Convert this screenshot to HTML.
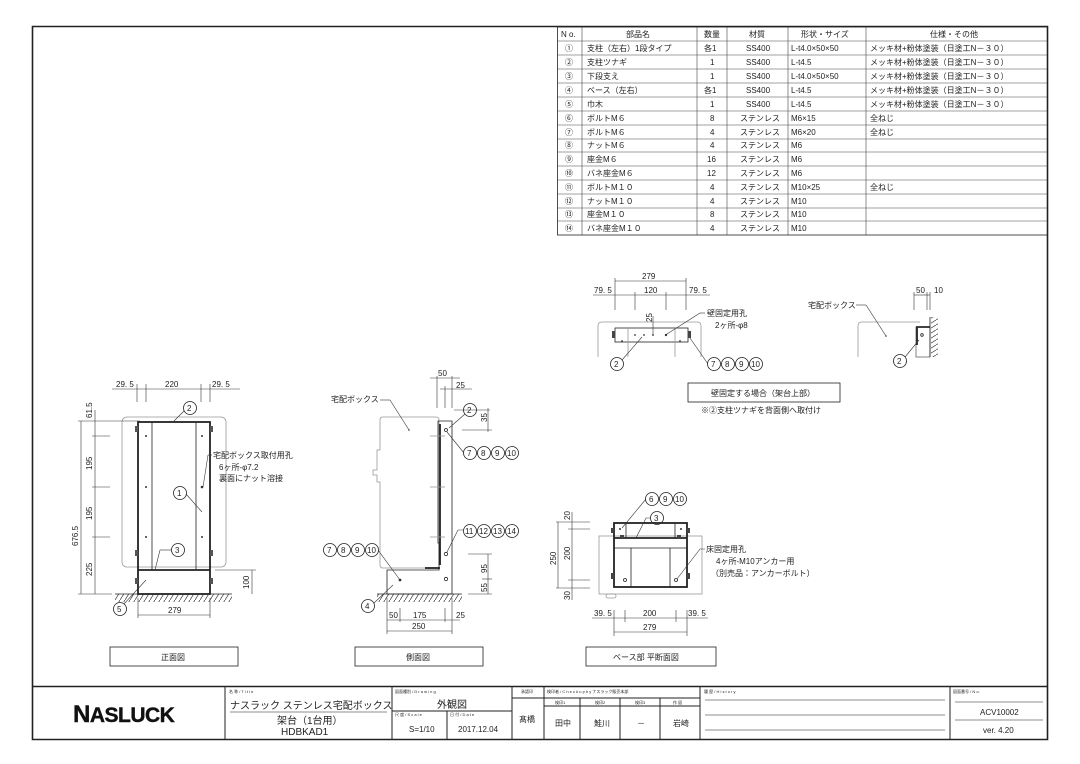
<!DOCTYPE html>
<html><head><meta charset="utf-8"><style>
html,body{margin:0;padding:0;background:#fff;}
svg{display:block;}
text{font-family:"Liberation Sans","Noto Sans CJK JP",sans-serif;fill:#222;}
.t{font-size:8px;}
.s{font-size:4px;fill:#555;}
.k{stroke:#222;fill:none;stroke-width:0.8;}
.h{stroke:#222;fill:none;stroke-width:1.8;}
.d{stroke:#999;fill:none;stroke-width:0.8;}
.f{stroke:#333;fill:none;stroke-width:0.6;}
</style></head><body>
<svg width="1080" height="764" viewBox="0 0 1080 764" xmlns="http://www.w3.org/2000/svg">
<defs>
<pattern id="hat" width="5" height="8" patternUnits="userSpaceOnUse">
<line x1="5" y1="0" x2="0" y2="8" stroke="#333" stroke-width="0.7"/></pattern>
<pattern id="hatv" width="8" height="5" patternUnits="userSpaceOnUse">
<line x1="0" y1="5" x2="8" y2="0" stroke="#333" stroke-width="0.7"/></pattern>
</defs>
<path d="M32.5 26.5 H1047.5 V739.5 H32.5 Z" stroke="#222" stroke-width="1.6" fill="none"/>
<line x1="32" y1="686.5" x2="1048" y2="686.5" stroke="#222" stroke-width="1.6"/>

<g class="t">
<rect x="557.5" y="27" width="490" height="208" class="k"/>
<g stroke="#444" stroke-width="0.6">
<line x1="582" y1="27" x2="582" y2="235"/><line x1="697" y1="27" x2="697" y2="235"/>
<line x1="727" y1="27" x2="727" y2="235"/><line x1="788" y1="27" x2="788" y2="235"/>
<line x1="866" y1="27" x2="866" y2="235"/>
<line x1="557" y1="41" x2="1047" y2="41"/><line x1="557" y1="55" x2="1047" y2="55"/>
<line x1="557" y1="69" x2="1047" y2="69"/><line x1="557" y1="83" x2="1047" y2="83"/>
<line x1="557" y1="97" x2="1047" y2="97"/><line x1="557" y1="111" x2="1047" y2="111"/>
<line x1="557" y1="125" x2="1047" y2="125"/><line x1="557" y1="139" x2="1047" y2="139"/>
<line x1="557" y1="152" x2="1047" y2="152"/><line x1="557" y1="166" x2="1047" y2="166"/>
<line x1="557" y1="180" x2="1047" y2="180"/><line x1="557" y1="194" x2="1047" y2="194"/>
<line x1="557" y1="208" x2="1047" y2="208"/><line x1="557" y1="221" x2="1047" y2="221"/>
</g>
<text x="561" y="37">N o.</text><text x="626" y="37">部品名</text><text x="704" y="37">数量</text>
<text x="749" y="37">材質</text><text x="801" y="37">形状・サイズ</text><text x="930" y="37">仕様・その他</text>
<g>
<text x="565" y="51">①</text><text x="587" y="51">支柱（左右）1段タイプ</text><text x="704" y="51">各1</text><text x="746" y="51">SS400</text><text x="791" y="51">L-t4.0×50×50</text><text x="870" y="51">メッキ材+粉体塗装（日塗工N－３０）</text>
<text x="565" y="65">②</text><text x="587" y="65">支柱ツナギ</text><text x="710" y="65">1</text><text x="746" y="65">SS400</text><text x="791" y="65">L-t4.5</text><text x="870" y="65">メッキ材+粉体塗装（日塗工N－３０）</text>
<text x="565" y="79">③</text><text x="587" y="79">下段支え</text><text x="710" y="79">1</text><text x="746" y="79">SS400</text><text x="791" y="79">L-t4.0×50×50</text><text x="870" y="79">メッキ材+粉体塗装（日塗工N－３０）</text>
<text x="565" y="93">④</text><text x="587" y="93">ベース（左右）</text><text x="704" y="93">各1</text><text x="746" y="93">SS400</text><text x="791" y="93">L-t4.5</text><text x="870" y="93">メッキ材+粉体塗装（日塗工N－３０）</text>
<text x="565" y="107">⑤</text><text x="587" y="107">巾木</text><text x="710" y="107">1</text><text x="746" y="107">SS400</text><text x="791" y="107">L-t4.5</text><text x="870" y="107">メッキ材+粉体塗装（日塗工N－３０）</text>
<text x="565" y="121">⑥</text><text x="587" y="121">ボルトM６</text><text x="710" y="121">8</text><text x="740" y="121">ステンレス</text><text x="791" y="121">M6×15</text><text x="870" y="121">全ねじ</text>
<text x="565" y="135">⑦</text><text x="587" y="135">ボルトM６</text><text x="710" y="135">4</text><text x="740" y="135">ステンレス</text><text x="791" y="135">M6×20</text><text x="870" y="135">全ねじ</text>
<text x="565" y="148">⑧</text><text x="587" y="148">ナットM６</text><text x="710" y="148">4</text><text x="740" y="148">ステンレス</text><text x="791" y="148">M6</text>
<text x="565" y="162">⑨</text><text x="587" y="162">座金M６</text><text x="707" y="162">16</text><text x="740" y="162">ステンレス</text><text x="791" y="162">M6</text>
<text x="565" y="176">⑩</text><text x="587" y="176">バネ座金M６</text><text x="707" y="176">12</text><text x="740" y="176">ステンレス</text><text x="791" y="176">M6</text>
<text x="565" y="190">⑪</text><text x="587" y="190">ボルトM１０</text><text x="710" y="190">4</text><text x="740" y="190">ステンレス</text><text x="791" y="190">M10×25</text><text x="870" y="190">全ねじ</text>
<text x="565" y="204">⑫</text><text x="587" y="204">ナットM１０</text><text x="710" y="204">4</text><text x="740" y="204">ステンレス</text><text x="791" y="204">M10</text>
<text x="565" y="217">⑬</text><text x="587" y="217">座金M１０</text><text x="710" y="217">8</text><text x="740" y="217">ステンレス</text><text x="791" y="217">M10</text>
<text x="565" y="231">⑭</text><text x="587" y="231">バネ座金M１０</text><text x="710" y="231">4</text><text x="740" y="231">ステンレス</text><text x="791" y="231">M10</text>
</g></g>

<g class="t">
<line x1="112" y1="389" x2="240" y2="389" class="f"/>
<line x1="137" y1="384" x2="137" y2="402" class="f"/><line x1="146" y1="384" x2="146" y2="402" class="f"/>
<line x1="201" y1="384" x2="201" y2="402" class="f"/><line x1="210" y1="384" x2="210" y2="402" class="f"/>
<text x="116" y="387">29. 5</text><text x="165" y="387">220</text><text x="212" y="387">29. 5</text>
<rect x="122" y="417" width="104" height="150" rx="5" class="d"/>
<rect x="138" y="422" width="72" height="172" class="h" stroke-width="1.7"/>
<line x1="152" y1="422" x2="152" y2="570" class="k"/><line x1="196" y1="422" x2="196" y2="570" class="k"/>
<line x1="138" y1="570" x2="210" y2="570" class="h"/>
<rect x="135" y="426" width="3" height="6" fill="#555"/><rect x="210" y="426" width="3" height="6" fill="#555"/>
<rect x="135" y="550" width="3" height="6" fill="#555"/><rect x="210" y="550" width="3" height="6" fill="#555"/>
<rect x="135" y="578" width="3" height="6" fill="#555"/><rect x="210" y="578" width="3" height="6" fill="#555"/>
<g fill="#333"><circle cx="146" cy="436" r="1"/><circle cx="202" cy="436" r="1"/><circle cx="146" cy="487" r="1"/><circle cx="202" cy="487" r="1.3"/><circle cx="146" cy="537" r="1"/><circle cx="202" cy="537" r="1"/></g>
<rect x="115" y="594" width="117" height="8" fill="url(#hat)"/><line x1="115" y1="594" x2="232" y2="594" class="k"/>
<line x1="81" y1="421" x2="81" y2="594" class="f"/><line x1="95" y1="410" x2="95" y2="594" class="f"/>
<g class="f"><line x1="78" y1="421" x2="140" y2="421"/><line x1="92" y1="436" x2="110" y2="436"/><line x1="92" y1="487" x2="110" y2="487"/><line x1="92" y1="537" x2="110" y2="537"/><line x1="78" y1="594" x2="112" y2="594"/></g>
<text transform="translate(78,546) rotate(-90)">676.5</text>
<text transform="translate(92,418) rotate(-90)">61.5</text>
<text transform="translate(92,470) rotate(-90)">195</text>
<text transform="translate(92,520) rotate(-90)">195</text>
<text transform="translate(92,576) rotate(-90)">225</text>
<line x1="252" y1="570" x2="252" y2="594" class="f"/><line x1="215" y1="570" x2="256" y2="570" class="f"/>
<text transform="translate(249,589) rotate(-90)">100</text>
<line x1="138" y1="598" x2="138" y2="618" class="f"/><line x1="210" y1="598" x2="210" y2="618" class="f"/>
<line x1="138" y1="615" x2="210" y2="615" class="f"/><text x="168" y="613">279</text>
<circle cx="190" cy="408" r="6.5" class="k"/><text x="187" y="411">2</text><line x1="184" y1="411" x2="173" y2="422" class="f"/>
<circle cx="180" cy="493" r="6.5" class="k"/><text x="177" y="496">1</text><line x1="186" y1="494" x2="202" y2="512" class="f"/>
<circle cx="178" cy="550" r="6.5" class="k"/><text x="175" y="553">3</text><line x1="172" y1="550" x2="160" y2="550" class="f"/><line x1="160" y1="550" x2="155" y2="570" class="f"/>
<circle cx="120" cy="609" r="6.5" class="k"/><text x="117" y="612">5</text><line x1="124" y1="604" x2="146" y2="580" class="f"/>
<line x1="208" y1="455" x2="203" y2="487" class="f"/><line x1="208" y1="455" x2="212" y2="455" class="f"/>
<text x="213" y="458">宅配ボックス取付用孔</text><text x="219" y="470">6ヶ所-φ7.2</text><text x="219" y="481">裏面にナット溶接</text>
<rect x="110" y="647" width="128" height="19" class="k"/><text x="161" y="660">正面図</text>
</g>

<g class="t">
<line x1="437" y1="376" x2="437" y2="408" class="f"/><line x1="452" y1="376" x2="452" y2="408" class="f"/><line x1="445" y1="386" x2="445" y2="408" class="f"/>
<line x1="430" y1="378" x2="460" y2="378" class="f"/><line x1="440" y1="389" x2="472" y2="389" class="f"/>
<text x="438" y="376">50</text><text x="456" y="388">25</text>
<path d="M380 420 Q380 417 383 417 H436 Q439 417 439 420 V568 H383 Q380 568 380 565 V482 H377 V475 H373 V470 H377 V450 H380 Z" class="d"/>
<path d="M438 421 H452 V594 H387 V570 H439 V543 H438 Z" class="k"/>
<line x1="440" y1="424" x2="440" y2="565" class="h" stroke-width="1.3"/><line x1="425" y1="568" x2="440" y2="568" class="h" stroke-width="1.3"/>
<g class="d"><line x1="430" y1="436" x2="445" y2="436"/><line x1="430" y1="487" x2="445" y2="487"/><line x1="430" y1="537" x2="445" y2="537"/></g>
<circle cx="446" cy="430" r="1.5" class="k"/><circle cx="446" cy="554" r="1.7" class="k"/><circle cx="446" cy="579" r="1.7" class="k"/><circle cx="400" cy="580" r="1.4" fill="#333"/>
<circle cx="409" cy="430" r="0.8" fill="#333"/>
<rect x="377" y="594" width="85" height="8" fill="url(#hat)"/><line x1="377" y1="594" x2="462" y2="594" class="k"/>
<line x1="454" y1="410" x2="490" y2="410" class="f"/><line x1="462" y1="430" x2="492" y2="430" class="f"/><line x1="488" y1="408" x2="488" y2="432" class="f"/>
<text transform="translate(487,422) rotate(-90)">35</text>
<line x1="468" y1="554" x2="492" y2="554" class="f"/><line x1="468" y1="594" x2="492" y2="594" class="f"/><line x1="488" y1="554" x2="488" y2="594" class="f"/><line x1="482" y1="579" x2="492" y2="579" class="f"/>
<text transform="translate(487,573) rotate(-90)">95</text><text transform="translate(487,592) rotate(-90)">55</text>
<g class="f"><line x1="387" y1="598" x2="387" y2="634"/><line x1="452" y1="598" x2="452" y2="634"/><line x1="400" y1="608" x2="400" y2="622"/><line x1="445" y1="608" x2="445" y2="622"/>
<line x1="387" y1="620" x2="460" y2="620"/><line x1="387" y1="631" x2="452" y2="631"/></g>
<text x="389" y="618">50</text><text x="413" y="618">175</text><text x="456" y="618">25</text><text x="412" y="629">250</text>
<text x="331" y="402">宅配ボックス</text><line x1="380" y1="400" x2="390" y2="400" class="f"/><line x1="390" y1="400" x2="409" y2="430" class="f"/>
<circle cx="470" cy="410" r="6.5" class="k"/><text x="467" y="413">2</text><line x1="465" y1="414" x2="449" y2="428" class="f"/>
<g><circle cx="470" cy="453" r="6.5" class="k"/><circle cx="484" cy="453" r="6.5" class="k"/><circle cx="498" cy="453" r="6.5" class="k"/><circle cx="512" cy="453" r="6.5" class="k"/>
<text x="467" y="456">7</text><text x="481" y="456">8</text><text x="495" y="456">9</text><text x="507" y="456">10</text></g>
<line x1="464" y1="453" x2="447" y2="432" class="f"/>
<g><circle cx="470" cy="531" r="6.5" class="k"/><circle cx="484" cy="531" r="6.5" class="k"/><circle cx="498" cy="531" r="6.5" class="k"/><circle cx="512" cy="531" r="6.5" class="k"/>
<text x="465" y="534">11</text><text x="479" y="534">12</text><text x="493" y="534">13</text><text x="507" y="534">14</text></g>
<path d="M464 530 H458 L447 552" class="f"/>
<g><circle cx="330" cy="550" r="6.5" class="k"/><circle cx="344" cy="550" r="6.5" class="k"/><circle cx="358" cy="550" r="6.5" class="k"/><circle cx="372" cy="550" r="6.5" class="k"/>
<text x="327" y="553">7</text><text x="341" y="553">8</text><text x="355" y="553">9</text><text x="367" y="553">10</text></g>
<line x1="378" y1="550" x2="400" y2="580" class="f"/>
<circle cx="368" cy="606" r="6.5" class="k"/><text x="365" y="609">4</text><line x1="374" y1="603" x2="393" y2="585" class="f"/>
<rect x="355" y="647" width="128" height="19" class="k"/><text x="406" y="660">側面図</text>
</g>

<g class="t">
<line x1="615" y1="281" x2="686" y2="281" class="f"/><line x1="593" y1="295" x2="710" y2="295" class="f"/>
<g class="f"><line x1="615" y1="278" x2="615" y2="310"/><line x1="686" y1="278" x2="686" y2="310"/><line x1="635" y1="292" x2="635" y2="310"/><line x1="666" y1="292" x2="666" y2="310"/></g>
<text x="642" y="279">279</text><text x="594" y="293">79. 5</text><text x="644" y="293">120</text><text x="689" y="293">79. 5</text>
<path d="M598 357 V326 Q598 322 602 322 H697 Q701 322 701 326 V357" class="d"/>
<rect x="615" y="328" width="73" height="14" class="k"/>
<line x1="628" y1="328" x2="628" y2="357" class="d"/><line x1="675" y1="328" x2="675" y2="357" class="d"/>
<rect x="612" y="331" width="3" height="7" fill="#444"/><rect x="688" y="331" width="3" height="7" fill="#444"/>
<g fill="#333"><circle cx="635" cy="335" r="0.9"/><circle cx="644" cy="335" r="0.9"/><circle cx="653" cy="335" r="0.9"/><circle cx="666" cy="335" r="1.2"/><circle cx="622" cy="341" r="0.9"/><circle cx="680" cy="341" r="0.9"/></g>
<line x1="653" y1="316" x2="653" y2="335" class="f"/><text transform="translate(652,322) rotate(-90)">25</text>
<text x="707" y="316">壁固定用孔</text><text x="715" y="328">2ヶ所-φ8</text>
<line x1="705" y1="313" x2="700" y2="313" class="f"/><line x1="700" y1="313" x2="667" y2="334" class="f"/>
<circle cx="617" cy="364" r="6.5" class="k"/><text x="614" y="367">2</text><line x1="622" y1="360" x2="642" y2="337" class="f"/>
<g><circle cx="714" cy="364" r="6.5" class="k"/><circle cx="728" cy="364" r="6.5" class="k"/><circle cx="742" cy="364" r="6.5" class="k"/><circle cx="756" cy="364" r="6.5" class="k"/>
<text x="711" y="367">7</text><text x="725" y="367">8</text><text x="739" y="367">9</text><text x="751" y="367">10</text></g>
<line x1="708" y1="364" x2="690" y2="338" class="f"/>
<rect x="688" y="383" width="152" height="19" class="k"/><text x="711" y="396">壁固定する場合（架台上部）</text>
<text x="701" y="413">※②支柱ツナギを背面側へ取付け</text>
<path d="M858 357 V326 Q858 322 862 322 H920" class="d"/>
<path d="M930 327 H917 V345" class="h" stroke-width="1.2"/><rect x="916" y="327" width="14" height="30" class="f"/>
<line x1="930" y1="317" x2="930" y2="357" class="k"/><rect x="931" y="317" width="7" height="40" fill="url(#hatv)"/>
<circle cx="922" cy="335" r="1.3" class="k"/><circle cx="886" cy="336" r="0.8" fill="#333"/>
<line x1="914" y1="295" x2="930" y2="295" class="f"/><line x1="914" y1="292" x2="914" y2="310" class="f"/><line x1="927" y1="292" x2="927" y2="310" class="f"/><line x1="930" y1="292" x2="930" y2="310" class="f"/>
<text x="916" y="293">50</text><text x="934" y="293">10</text>
<text x="808" y="308">宅配ボックス</text><line x1="856" y1="305" x2="866" y2="305" class="f"/><line x1="866" y1="305" x2="886" y2="336" class="f"/>
<circle cx="900" cy="361" r="6.5" class="k"/><text x="897" y="364">2</text><line x1="905" y1="357" x2="919" y2="340" class="f"/>
</g>

<g class="t">
<rect x="599" y="536" width="103" height="58" class="d"/>
<rect x="614" y="523" width="73" height="64" class="h" stroke-width="1.3"/>
<line x1="614" y1="538" x2="687" y2="538" class="h" stroke-width="1.3"/><line x1="614" y1="548" x2="687" y2="548" class="k"/>
<line x1="631" y1="548" x2="631" y2="587" class="k"/><line x1="670" y1="548" x2="670" y2="587" class="k"/>
<line x1="626" y1="523" x2="626" y2="538" class="k"/><line x1="675" y1="523" x2="675" y2="538" class="k"/>
<g fill="#444"><rect x="611" y="528" width="3" height="5"/><rect x="687" y="528" width="3" height="5"/><rect x="611" y="573" width="3" height="6"/><rect x="687" y="573" width="3" height="6"/><rect x="620" y="535" width="4" height="3"/><rect x="677" y="535" width="4" height="3"/></g>
<circle cx="625" cy="580" r="1.5" class="k"/><circle cx="676" cy="580" r="1.5" class="k"/>
<circle cx="620" cy="529" r="1" fill="#333"/><circle cx="681" cy="529" r="1" fill="#333"/>
<rect x="606" y="594" width="10" height="4" rx="2" class="d"/>
<g class="f"><line x1="556" y1="522" x2="590" y2="522"/><line x1="568" y1="529" x2="590" y2="529"/><line x1="568" y1="580" x2="590" y2="580"/><line x1="556" y1="588" x2="590" y2="588"/>
<line x1="558" y1="522" x2="558" y2="588"/><line x1="572" y1="512" x2="572" y2="600"/></g>
<text transform="translate(556,565) rotate(-90)">250</text><text transform="translate(570,560) rotate(-90)">200</text>
<text transform="translate(570,520) rotate(-90)">20</text><text transform="translate(570,600) rotate(-90)">30</text>
<g class="f"><line x1="592" y1="618" x2="708" y2="618"/><line x1="614" y1="610" x2="614" y2="636"/><line x1="687" y1="610" x2="687" y2="636"/><line x1="625" y1="610" x2="625" y2="622"/><line x1="676" y1="610" x2="676" y2="622"/><line x1="614" y1="632" x2="687" y2="632"/></g>
<text x="594" y="616">39. 5</text><text x="643" y="616">200</text><text x="688" y="616">39. 5</text><text x="643" y="630">279</text>
<g><circle cx="652" cy="499" r="6.5" class="k"/><circle cx="666" cy="499" r="6.5" class="k"/><circle cx="680" cy="499" r="6.5" class="k"/>
<text x="649" y="502">6</text><text x="663" y="502">9</text><text x="675" y="502">10</text></g>
<line x1="646" y1="499" x2="622" y2="528" class="f"/>
<circle cx="657" cy="518" r="6.5" class="k"/><text x="654" y="521">3</text><path d="M651 518 H646 L636 538" class="f"/>
<text x="706" y="552">床固定用孔</text><text x="716" y="564">4ヶ所-M10アンカー用</text><text x="711" y="576">（別売品：アンカーボルト）</text>
<path d="M705 549 H700 L677 579" class="f"/>
<rect x="586" y="647" width="130" height="19" class="k"/><text x="613" y="660">ベース部 平断面図</text>
</g>

<g stroke="#222" stroke-width="1" fill="none">
<line x1="225" y1="687" x2="225" y2="739"/><line x1="392" y1="687" x2="392" y2="739"/><line x1="512" y1="687" x2="512" y2="739"/>
<line x1="544" y1="687" x2="544" y2="739"/><line x1="700" y1="687" x2="700" y2="739"/><line x1="950" y1="687" x2="950" y2="739"/>
<line x1="392" y1="711" x2="512" y2="711"/><line x1="447" y1="711" x2="447" y2="739"/>
<line x1="512" y1="698" x2="544" y2="698"/><line x1="544" y1="698" x2="700" y2="698"/><line x1="544" y1="706" x2="700" y2="706"/>
<line x1="580" y1="698" x2="580" y2="739"/><line x1="620" y1="698" x2="620" y2="739"/><line x1="660" y1="698" x2="660" y2="739"/>
</g>
<g stroke="#666" stroke-width="0.7">
<line x1="230" y1="712" x2="387" y2="712"/>
<line x1="705" y1="700" x2="945" y2="700"/><line x1="705" y1="715" x2="945" y2="715"/><line x1="705" y1="730" x2="945" y2="730"/>
<line x1="955" y1="702" x2="1043" y2="702"/><line x1="955" y1="720" x2="1043" y2="720"/>
</g>
<text x="73" y="722" style="font-size:21px;font-weight:bold;letter-spacing:-0.5px;fill:#111;stroke:#111;stroke-width:0.4"><tspan style="font-size:24px">N</tspan>ASLUCK</text>
<g class="s"><text x="229" y="693">名 称 / T i t l e</text><text x="395" y="693">図面種別 / D r a w i n g</text><text x="521" y="693">承認印</text>
<text x="547" y="693">検印者 / C h e c k  u p  b y  ナスラック販売本部</text><text x="704" y="693">履 歴 / H i s t o r y</text><text x="953" y="693">図面番号 / N o.</text>
<text x="395" y="716">尺 度 / S c a l e</text><text x="450" y="716">日 付 / D a t e</text>
<text x="555" y="704">検印1</text><text x="595" y="704">検印2</text><text x="635" y="704">検印3</text><text x="673" y="704">作 図</text></g>
<text x="230" y="709" style="font-size:10px">ナスラック ステンレス宅配ボックス</text>
<text x="437" y="708" style="font-size:10px">外観図</text>
<g style="font-size:10px"><text x="277" y="724">架台（1台用）</text><text x="281" y="735">HDBKAD1</text></g>
<g class="t"><text x="409" y="732">S=1/10</text><text x="458" y="732">2017.12.04</text><text x="519" y="722">髙橋</text>
<text x="555" y="726">田中</text><text x="594" y="726">鮭川</text><text x="637" y="726">－</text><text x="673" y="726">岩崎</text>
<text x="980" y="715">ACV10002</text><text x="983" y="733">ver. 4.20</text></g>
</svg>
</body></html>
